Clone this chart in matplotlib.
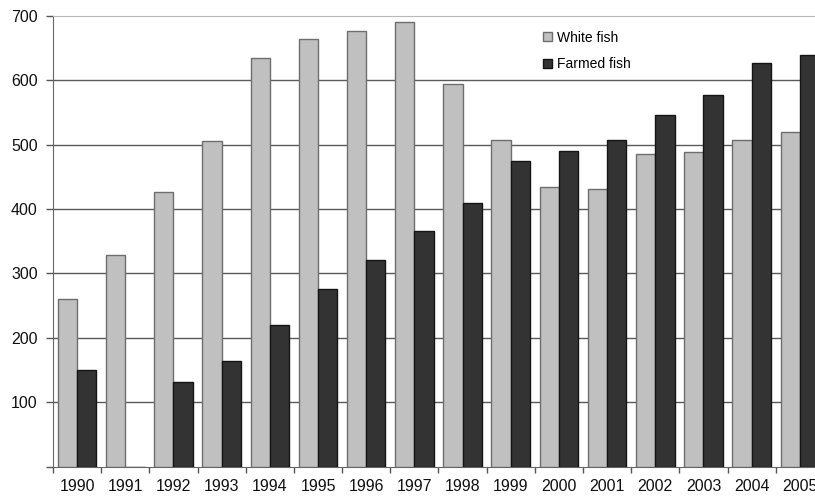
import numpy as np
from matplotlib import pyplot as plt

plt.rcParams['font.family'] = ['Liberation Sans', 'DejaVu Sans']

years = [str(y) for y in range(1990, 2006)]
white_fish = [260, 329, 427, 506, 635, 664, 676, 690, 594, 508, 434, 431, 486, 488, 507, 519]
farmed_fish = [150, 0, 131, 164, 220, 276, 321, 366, 409, 474, 490, 508, 546, 577, 627, 639]
yticks = [0, 100, 200, 300, 400, 500, 600, 700]

fig = plt.figure(figsize=(8.15, 4.97), dpi=100)
# axes run past the right edge, the original is cropped there
ax = fig.add_axes([0.065, 0.061, 0.946, 0.907])

x = np.arange(len(years))
w = 0.4
ax.bar(x - w/2, white_fish, w, color='#c0c0c0', edgecolor='#6e6e6e', linewidth=1, zorder=3, label='White fish')
ax.bar(x + w/2, farmed_fish, w, color='#333333', edgecolor='#151515', linewidth=1, zorder=3, label='Farmed fish')

for yv in yticks[1:-1]:
    ax.axhline(yv, color='#5a5a5a', linewidth=1, zorder=1)

ax.set_xlim(-0.5, len(years) - 0.5)
ax.set_ylim(0, 700)

ax.set_yticks(yticks)
ax.set_yticklabels([''] + [str(v) for v in yticks[1:]])
ax.set_xticks(x)
ax.set_xticklabels(years)
ax.set_xticks(np.arange(len(years) + 1) - 0.5, minor=True)

ax.tick_params(axis='x', which='major', length=0, pad=9, labelsize=11.5, colors='#111111')
ax.tick_params(axis='x', which='minor', length=4, width=1, color='#555555')
ax.tick_params(axis='y', length=5, width=1, color='#555555', pad=6, labelsize=11.5, labelcolor='#111111')

ax.spines['right'].set_visible(False)
ax.spines['top'].set_color('#b8b8b8')
ax.spines['left'].set_color('#666666')
ax.spines['bottom'].set_color('#666666')

ax.legend(loc='upper left', bbox_to_anchor=(0.62, 0.995), frameon=False,
          handlelength=0.6, handleheight=0.6, handletextpad=0.4,
          labelspacing=0.9, fontsize=10)

fig.savefig('out.png', dpi=100, facecolor='white')
